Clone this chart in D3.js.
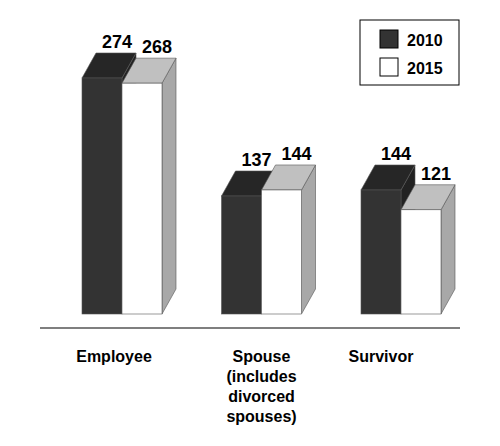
<!DOCTYPE html><html><head><script src="https://cdn.jsdelivr.net/npm/d3@7"></script>
<style>body{margin:0;background:#fff}text{font-family:Arial,"Liberation Sans",sans-serif;font-weight:bold}</style></head><body>
<script>
const categories=["Employee","Spouse","Survivor"];
const catLines=[["Employee"],["Spouse","(includes","divorced","spouses)"],["Survivor"]];
const series=["2010","2015"];
const v2010=[274,137,144];
const v2015=[268,144,121];
const W=500,H=446,dx=14,dy=25,bw=40;
const svg=d3.select("body").append("svg").attr("width",W).attr("height",H);
const x=d3.scalePoint().domain(categories).range([122,401]);
const y=d3.scaleLinear().domain([0,274]).range([314,78]);
const styles=[{front:"#333",top:"#262626",side:"#222"},{front:"#fff",top:"#c0c0c0",side:"#a8a8a8"}];
svg.append("line").attr("x1",40).attr("x2",460).attr("y1",328).attr("y2",328).attr("stroke","#000").attr("stroke-width",1.2);
categories.forEach((c,i)=>{
  [v2010[i],v2015[i]].forEach((v,s)=>{
    const x0=x(c)-bw+s*bw, x1=x0+bw, yt=y(v), yb=y(0), st=styles[s];
    const g=svg.append("g");
    g.append("path").attr("d",`M${x1},${yt}L${x1+dx},${yt-dy}L${x1+dx},${yb-dy}L${x1},${yb}Z`).attr("fill",st.side).attr("stroke","#555").attr("stroke-width",0.6);
    g.append("path").attr("d",`M${x0},${yt}L${x0+dx},${yt-dy}L${x1+dx},${yt-dy}L${x1},${yt}Z`).attr("fill",st.top).attr("stroke","#555").attr("stroke-width",0.6);
    g.append("rect").attr("x",x0).attr("y",yt).attr("width",bw).attr("height",yb-yt).attr("fill",st.front).attr("stroke","#555").attr("stroke-width",0.6);
    svg.append("text").attr("x",x0+bw/2+dx+1).attr("y",yt-dy-5).attr("text-anchor","middle").attr("font-size",18).text(v);
  });
  const t=svg.append("text").attr("text-anchor","middle").attr("font-size",16).attr("x",x(c)-8);
  catLines[i].forEach((l,k)=>t.append("tspan").attr("x",x(c)-8+(i==1?8:i==2?-12:0)).attr("y",362+k*20).text(l));
});
const lg=svg.append("g");
lg.append("rect").attr("x",360).attr("y",20).attr("width",99).attr("height",65).attr("fill","#fff").attr("stroke","#000");
series.forEach((s,k)=>{
  lg.append("rect").attr("x",380).attr("y",30+k*28).attr("width",18).attr("height",18).attr("fill",k?"#fff":"#333").attr("stroke","#000");
  lg.append("text").attr("x",407).attr("y",46+k*28).attr("font-size",16).text(s);
});
</script></body></html>
